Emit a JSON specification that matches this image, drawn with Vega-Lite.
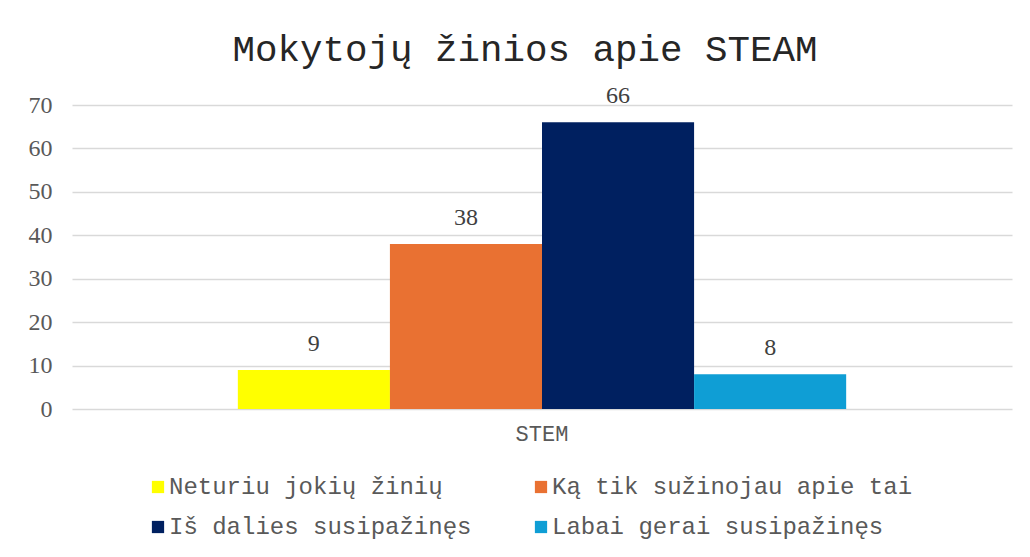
{
  "$schema": "https://vega.github.io/schema/vega-lite/v6.json",
  "autosize": {"type": "none"},
  "padding": {"left": 72, "top": 105, "right": 18, "bottom": 148},
  "width": 940,
  "height": 304,
  "background": "white",
  "title": {
    "text": "Mokytojų žinios apie STEAM",
    "font": "Liberation Mono",
    "fontSize": 37.5,
    "fontWeight": "normal",
    "color": "#262626",
    "anchor": "middle",
    "dx": -17,
    "offset": 16
  },
  "data": {
    "values": [
      {"kategorija": "STEM", "atsakymas": "Neturiu jokių žinių", "tvarka": 1, "reiksme": 9},
      {"kategorija": "STEM", "atsakymas": "Ką tik sužinojau apie tai", "tvarka": 2, "reiksme": 38},
      {"kategorija": "STEM", "atsakymas": "Iš dalies susipažinęs", "tvarka": 3, "reiksme": 66},
      {"kategorija": "STEM", "atsakymas": "Labai gerai susipažinęs", "tvarka": 4, "reiksme": 8}
    ]
  },
  "encoding": {
    "x": {
      "field": "kategorija",
      "type": "nominal",
      "scale": {"paddingInner": 0, "paddingOuter": 0.2726},
      "axis": {
        "title": null,
        "labelAngle": 0,
        "labelFont": "Liberation Mono",
        "labelFontSize": 22,
        "labelColor": "#595959",
        "labelPadding": 14,
        "ticks": false,
        "domain": false
      }
    },
    "xOffset": {
      "field": "atsakymas",
      "type": "nominal",
      "sort": ["Neturiu jokių žinių", "Ką tik sužinojau apie tai", "Iš dalies susipažinęs", "Labai gerai susipažinęs"],
      "scale": {"paddingInner": 0, "paddingOuter": 0}
    },
    "y": {
      "field": "reiksme",
      "type": "quantitative",
      "scale": {"domain": [0, 70]},
      "axis": {
        "title": null,
        "values": [0, 10, 20, 30, 40, 50, 60, 70],
        "labelFont": "Liberation Serif",
        "labelFontSize": 24,
        "labelColor": "#595959",
        "labelPadding": 20,
        "ticks": false,
        "domain": false,
        "gridColor": "#d9d9d9",
        "gridWidth": 1.3
      }
    }
  },
  "layer": [
    {
      "mark": {"type": "bar"},
      "encoding": {
        "color": {
          "field": "atsakymas",
          "type": "nominal",
          "sort": ["Neturiu jokių žinių", "Ką tik sužinojau apie tai", "Iš dalies susipažinęs", "Labai gerai susipažinęs"],
          "scale": {
            "domain": ["Neturiu jokių žinių", "Ką tik sužinojau apie tai", "Iš dalies susipažinęs", "Labai gerai susipažinęs"],
            "range": ["#FFFF00", "#E97132", "#002060", "#0F9ED5"]
          },
          "legend": {
            "title": null,
            "orient": "none",
            "legendX": 74,
            "legendY": 370,
            "direction": "horizontal",
            "columns": 2,
            "columnPadding": 57,
            "rowPadding": 16,
            "symbolType": "square",
            "symbolSize": 150,
            "symbolStrokeWidth": 0,
            "symbolOffset": 0,
            "labelOffset": -1,
            "labelFont": "Liberation Mono",
            "labelFontSize": 24,
            "labelColor": "#595959",
            "labelLimit": 500
          }
        }
      }
    },
    {
      "mark": {
        "type": "text",
        "baseline": "bottom",
        "dy": -14,
        "font": "Liberation Serif",
        "fontSize": 24,
        "color": "#404040"
      },
      "encoding": {
        "text": {"field": "reiksme", "type": "quantitative"}
      }
    }
  ],
  "config": {
    "view": {"stroke": null}
  }
}
